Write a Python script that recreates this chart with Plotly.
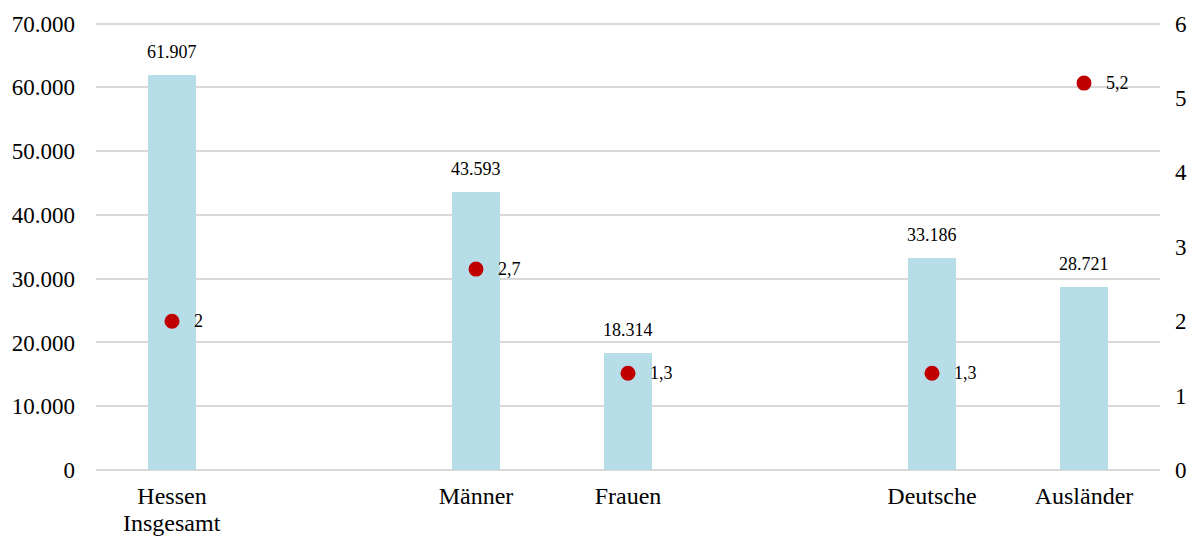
import plotly.graph_objects as go

# Categories (blank slots separate the groups)
categories = ["Hessen<br>Insgesamt", " ", "Männer", "Frauen", "  ", "Deutsche", "Ausländer"]
bar_categories = ["Hessen<br>Insgesamt", "Männer", "Frauen", "Deutsche", "Ausländer"]
bar_values = [61907, 43593, 18314, 33186, 28721]
rate_values = [2, 2.7, 1.3, 1.3, 5.2]
left_ticks = [0, 10000, 20000, 30000, 40000, 50000, 60000, 70000]
right_ticks = [0, 1, 2, 3, 4, 5, 6]

FONT = "Liberation Serif, Times New Roman, serif"
GRID = "#d9d9d9"
Y_TOP = 70400  # a little headroom so the 70.000 gridline is drawn


def de_int(v):
    return f"{v:,.0f}".replace(",", ".")


def de_num(v):
    return ("%g" % v).replace(".", ",")


fig = go.Figure()
fig.add_trace(go.Bar(
    x=bar_categories, y=bar_values,
    marker=dict(color="#b7dde8", line=dict(width=0)),
    width=0.32,
    showlegend=False,
))
fig.add_trace(go.Scatter(
    x=bar_categories, y=rate_values, yaxis="y2",
    mode="markers",
    marker=dict(color="#c00000", size=15),
    cliponaxis=False,
    showlegend=False,
))

annotations = []
for c, v in zip(bar_categories, bar_values):
    annotations.append(dict(
        x=c, y=v, xref="x", yref="y", text=de_int(v), showarrow=False,
        xanchor="center", yanchor="bottom", yshift=11,
        font=dict(family=FONT, size=18, color="#000000"),
    ))
for c, v in zip(bar_categories, rate_values):
    annotations.append(dict(
        x=c, y=v, xref="x", yref="y2", text=de_num(v), showarrow=False,
        xanchor="left", yanchor="middle", xshift=20,
        font=dict(family=FONT, size=18, color="#000000"),
    ))

# Category labels: first line as tick text, further lines set tighter below it
tick_first = [c.split("<br>")[0] for c in categories]
for c in categories:
    extra = c.split("<br>")[1:]
    for i, line in enumerate(extra):
        annotations.append(dict(
            x=c, y=0, xref="x", yref="paper", text=line, showarrow=False,
            xanchor="center", yanchor="middle", yshift=-53 - 24 * i,
            font=dict(family=FONT, size=24, color="#000000"),
        ))

fig.update_layout(
    width=1198, height=536,
    margin=dict(l=96, r=38, t=21, b=66),
    paper_bgcolor="white", plot_bgcolor="white",
    font=dict(family=FONT, size=23, color="#000000"),
    annotations=annotations,
    xaxis=dict(
        type="category", categoryorder="array", categoryarray=categories,
        tickvals=categories, ticktext=tick_first,
        range=[-0.5, 6.5], showgrid=False, showline=False, ticks="",
        tickfont=dict(size=24), ticklabelstandoff=9, automargin=False,
    ),
    yaxis=dict(
        range=[0, Y_TOP], tickvals=left_ticks,
        ticktext=[de_int(t) for t in left_ticks],
        showgrid=True, gridcolor=GRID, gridwidth=2,
        zeroline=True, zerolinecolor=GRID, zerolinewidth=2,
        showline=False, ticks="", tickfont=dict(size=23),
        ticklabelstandoff=20, automargin=False,
    ),
    yaxis2=dict(
        overlaying="y", side="right", range=[0, 6 * Y_TOP / 70000],
        tickvals=right_ticks,
        showgrid=False, zeroline=False, showline=False, ticks="",
        tickfont=dict(size=23), ticklabelstandoff=14, automargin=False,
    ),
    bargap=0,
)

fig.write_html("out.html")
